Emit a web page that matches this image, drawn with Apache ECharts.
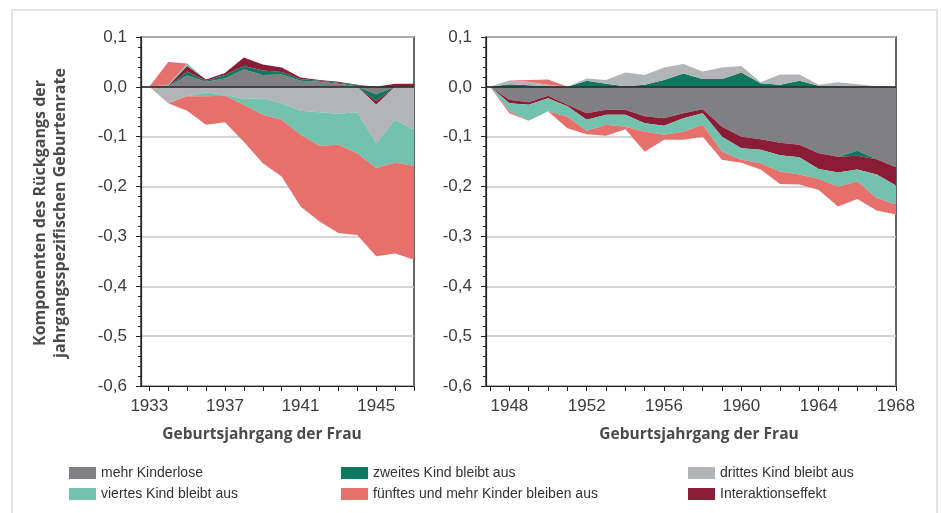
<!DOCTYPE html>
<html>
<head>
<meta charset="utf-8">
<script src="https://cdn.jsdelivr.net/npm/echarts@6/dist/echarts.min.js"></script>
<style>
    html, body { margin: 0; padding: 0; background: #fff; }
    #main { width: 941px; height: 513px; }
</style>
</head>
<body>
<div id="main"></div>
<script type="text/javascript">
    // Geburtsjahrgaenge 1933-1947 (links)
    var yearsA = [1933, 1934, 1935, 1936, 1937, 1938, 1939, 1940, 1941, 1942, 1943, 1944, 1945, 1946, 1947];
    var kinderloseA  = [0, 0, 0.023, 0.010, 0.017, 0.035, 0.024, 0.025, 0.012, 0.010, 0.006, 0.001, -0.015, 0, 0];
    var zweitesA     = [0, 0, 0.008, 0.002, 0.007, 0.007, 0.009, 0.005, 0.004, 0.002, 0.002, 0.002, -0.014, 0, 0];
    var interaktionA = [0, 0.002, 0.011, 0.003, 0.004, 0.017, 0.012, 0.009, 0.003, 0.002, 0.002, 0.001, -0.007, 0.006, 0.006];
    var drittesA     = [0, -0.033, -0.019, -0.011, -0.016, -0.024, -0.023, -0.033, -0.048, -0.051, -0.054, -0.051, -0.077, -0.066, -0.086];
    var viertesA     = [0, 0.002, 0.005, -0.008, -0.002, -0.012, -0.033, -0.033, -0.048, -0.067, -0.062, -0.082, -0.050, -0.086, -0.072];
    var fuenftesA    = [0, 0.046, -0.029, -0.057, -0.053, -0.074, -0.097, -0.114, -0.144, -0.152, -0.177, -0.164, -0.177, -0.182, -0.189];

    // Geburtsjahrgaenge 1947-1968 (rechts)
    var yearsB = [1947, 1948, 1949, 1950, 1951, 1952, 1953, 1954, 1955, 1956, 1957, 1958, 1959, 1960, 1961, 1962, 1963, 1964, 1965, 1966, 1967, 1968];
    var kinderloseB  = [0, -0.026, -0.031, -0.018, -0.036, -0.053, -0.046, -0.046, -0.059, -0.063, -0.053, -0.045, -0.080, -0.100, -0.105, -0.112, -0.116, -0.133, -0.140, -0.128, -0.145, -0.161];
    var zweitesB     = [0, 0.005, 0.003, 0.001, 0, 0.012, 0.006, 0.001, 0.004, 0.014, 0.027, 0.016, 0.016, 0.029, 0.007, 0.004, 0.012, 0.002, 0.001, -0.010, 0, 0];
    var interaktionB = [0, -0.007, -0.005, -0.005, -0.003, -0.013, -0.010, -0.010, -0.014, -0.015, -0.010, -0.008, -0.020, -0.023, -0.021, -0.025, -0.025, -0.032, -0.032, -0.028, -0.031, -0.037];
    var drittesB     = [0, 0.008, 0.007, 0.003, 0, 0.005, 0.008, 0.028, 0.020, 0.025, 0.019, 0.015, 0.023, 0.013, 0.002, 0.021, 0.013, 0.002, 0.008, 0.005, 0.001, 0];
    var viertesB     = [0, -0.016, -0.032, -0.026, -0.021, -0.022, -0.020, -0.024, -0.017, -0.018, -0.027, -0.023, -0.030, -0.023, -0.027, -0.033, -0.035, -0.020, -0.028, -0.024, -0.047, -0.038];
    var fuenftesB    = [0, -0.004, 0.004, 0.011, -0.023, -0.007, -0.022, -0.005, -0.040, -0.010, -0.016, -0.024, -0.016, -0.006, -0.013, -0.025, -0.020, -0.022, -0.040, -0.035, -0.025, -0.020];

    var tickYearsA  = [1933, 1934, 1935, 1936, 1937, 1938, 1939, 1940, 1941, 1942, 1943, 1944, 1945, 1946, 1947];
    var labelYearsA = [1933, 1937, 1941, 1945];
    var tickYearsB  = [1947, 1948, 1949, 1950, 1951, 1952, 1953, 1954, 1955, 1956, 1957, 1958, 1959, 1960, 1961, 1962, 1963, 1964, 1965, 1966, 1967, 1968];
    var labelYearsB = [1948, 1952, 1956, 1960, 1964, 1968];

    var names = ['mehr Kinderlose', 'zweites Kind bleibt aus', 'Interaktionseffekt',
                 'drittes Kind bleibt aus', 'viertes Kind bleibt aus', 'fünftes und mehr Kinder bleiben aus'];
    var colors = ['#808084', '#0f7660', '#8b1c35', '#b3b4b8', '#73c2ae', '#e6706b'];

    var narrow = '"Liberation Sans Narrow", "Liberation Sans", sans-serif';
    var boldFont = '"Open Sans", "Noto Sans", sans-serif';

    // positive und negative Anteile getrennt stapeln
    // Datenpaare als [Wert, Jahr], damit der Wert gestapelt wird
    function buildSeries(idx, years, comps) {
        var out = [];
        ['pos', 'neg'].forEach(function (sign) {
            comps.forEach(function (vals, k) {
                out.push({
                    name: names[k],
                    type: 'line',
                    xAxisIndex: idx,
                    yAxisIndex: idx,
                    stack: sign + idx,
                    encode: {x: 1, y: 0},
                    showSymbol: false,
                    symbol: 'none',
                    lineStyle: {width: 0},
                    itemStyle: {color: colors[k]},
                    areaStyle: {color: colors[k], opacity: 1},
                    emphasis: {disabled: true},
                    data: years.map(function (y, i) {
                        var v = vals[i];
                        return [sign === 'pos' ? Math.max(v, 0) : Math.min(v, 0), y];
                    })
                });
            });
        });
        // Nulllinie
        out[out.length - 1].markLine = {
            silent: true,
            symbol: 'none',
            label: {show: false},
            lineStyle: {color: '#222', width: 1.6, type: 'solid'},
            data: [{yAxis: 0}]
        };
        return out;
    }

    function yAxisCfg(idx) {
        return {
            type: 'value', gridIndex: idx, min: -0.6, max: 0.1, interval: 0.1, z: 3,
            axisLine: {show: true, lineStyle: {color: '#222', width: 1.2}},
            axisTick: {show: true, length: 5, lineStyle: {color: '#222'}},
            minorTick: {show: true, splitNumber: 5, length: 3, lineStyle: {color: '#222'}},
            axisLabel: {
                fontFamily: narrow, fontSize: 17, color: '#3c3c3c', margin: 14,
                formatter: function (v) {
                    if (Math.abs(v) < 1e-9) return '0,0';
                    return v.toFixed(1).replace('.', ',');
                }
            },
            splitLine: {show: true, lineStyle: {color: '#c6c6c6', width: 1.5}}
        };
    }

    function xAxisCfg(idx, min, max, ticks, labels) {
        return {
            type: 'value', gridIndex: idx, min: min, max: max, z: 3,
            axisLine: {show: true, onZero: false, lineStyle: {color: '#222', width: 1.2}},
            axisTick: {show: true, length: 5, customValues: ticks, lineStyle: {color: '#222'}},
            axisLabel: {
                customValues: labels, fontFamily: narrow, fontSize: 17, color: '#3c3c3c', margin: 12,
                formatter: function (v) { return String(v); }
            },
            splitLine: {show: false}
        };
    }

    function legendCfg(left, data) {
        return {
            data: data, left: left, top: 461, orient: 'vertical',
            icon: 'rect', itemWidth: 27, itemHeight: 12, itemGap: 7,
            selectedMode: false,
            textStyle: {fontFamily: narrow, fontSize: 14, color: '#333', lineHeight: 14}
        };
    }

    var myChart = echarts.init(document.getElementById('main'));

    var option = {
        animation: false,
        backgroundColor: '#fff',
        grid: [
            {left: 141, top: 37, width: 273, height: 349, show: true, borderColor: '#333', borderWidth: 1.5, z: 3},
            {left: 486, top: 37, width: 410, height: 349, show: true, borderColor: '#333', borderWidth: 1.5, z: 3}
        ],
        xAxis: [
            xAxisCfg(0, 1932.56, 1947, tickYearsA, labelYearsA),
            xAxisCfg(1, 1946.79, 1968, tickYearsB, labelYearsB)
        ],
        yAxis: [yAxisCfg(0), yAxisCfg(1)],
        legend: [
            legendCfg(64, ['mehr Kinderlose', 'viertes Kind bleibt aus']),
            legendCfg(336, ['zweites Kind bleibt aus', 'fünftes und mehr Kinder bleiben aus']),
            legendCfg(683, ['drittes Kind bleibt aus', 'Interaktionseffekt'])
        ],
        graphic: [
            {type: 'rect', shape: {x: 12, y: 10, width: 925, height: 520}, style: {fill: 'none', stroke: '#e2e2e2', lineWidth: 2}, silent: true},
            {type: 'text', x: 262, y: 435, style: {text: 'Geburtsjahrgang der Frau', font: 'bold 15.5px ' + boldFont, fill: '#4a4a4a', align: 'center', verticalAlign: 'middle'}},
            {type: 'text', x: 699, y: 435, style: {text: 'Geburtsjahrgang der Frau', font: 'bold 15.5px ' + boldFont, fill: '#4a4a4a', align: 'center', verticalAlign: 'middle'}},
            {type: 'text', x: 40, y: 213, rotation: Math.PI / 2, style: {text: 'Komponenten des Rückgangs der', font: 'bold 16px ' + boldFont, fill: '#4a4a4a', align: 'center', verticalAlign: 'middle'}},
            {type: 'text', x: 60, y: 213, rotation: Math.PI / 2, style: {text: 'jahrgangsspezifischen Geburtenrate', font: 'bold 16px ' + boldFont, fill: '#4a4a4a', align: 'center', verticalAlign: 'middle'}}
        ],
        series: buildSeries(0, yearsA, [kinderloseA, zweitesA, interaktionA, drittesA, viertesA, fuenftesA])
            .concat(buildSeries(1, yearsB, [kinderloseB, zweitesB, interaktionB, drittesB, viertesB, fuenftesB]))
    };

    myChart.setOption(option);
</script>
</body>
</html>
